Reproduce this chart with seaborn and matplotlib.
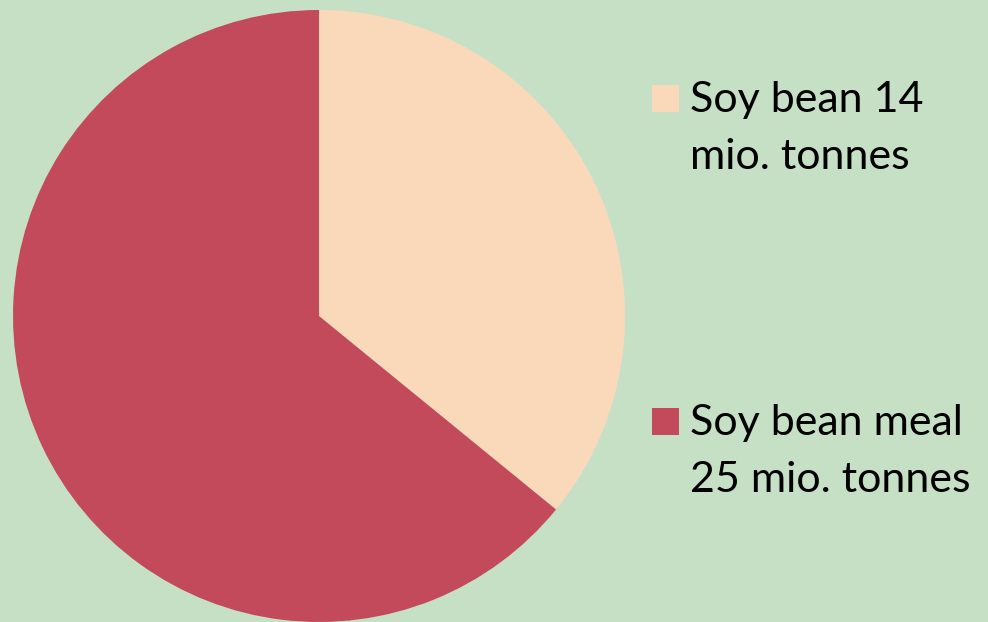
import matplotlib
matplotlib.use("Agg")
import matplotlib.pyplot as plt
import seaborn as sns
from matplotlib.patches import Rectangle

# data
labels = ["Soy bean 14\nmio. tonnes", "Soy bean meal\n25 mio. tonnes"]
values = [14, 25]
colors = ["#F9D9BA", "#C34A5A"]
bg = "#C6E0C6"

sns.set_theme(style="white")
plt.rcParams['font.family'] = ['Lato', 'DejaVu Sans']

fig = plt.figure(figsize=(9.88, 6.22), dpi=100, facecolor=bg)
W, H = 988, 622
cx, cy, r = 319, 316, 306
ax = fig.add_axes([(cx - r) / W, (H - cy - r) / H, 2 * r / W, 2 * r / H])
ax.set_facecolor(bg)
ax.pie(values, colors=colors, startangle=90, counterclock=False, radius=1,
       wedgeprops=dict(linewidth=0))
ax.set_xlim(-1, 1)
ax.set_ylim(-1, 1)
ax.set_aspect("equal")
ax.axis("off")

# legend drawn by hand: square + two baseline-aligned text lines
baselines = [112, 435]
for lab, col, base in zip(labels, colors, baselines):
    fig.patches.append(Rectangle((652 / W, (H - base) / H), 27 / W, 27 / H,
                                 transform=fig.transFigure, facecolor=col,
                                 edgecolor="none"))
    for i, line in enumerate(lab.split("\n")):
        fig.text(690 / W, (H - base - 57 * i) / H, line, fontsize=31,
                 va="baseline", ha="left", color="black")

fig.savefig("out.png", dpi=100, facecolor=bg)
